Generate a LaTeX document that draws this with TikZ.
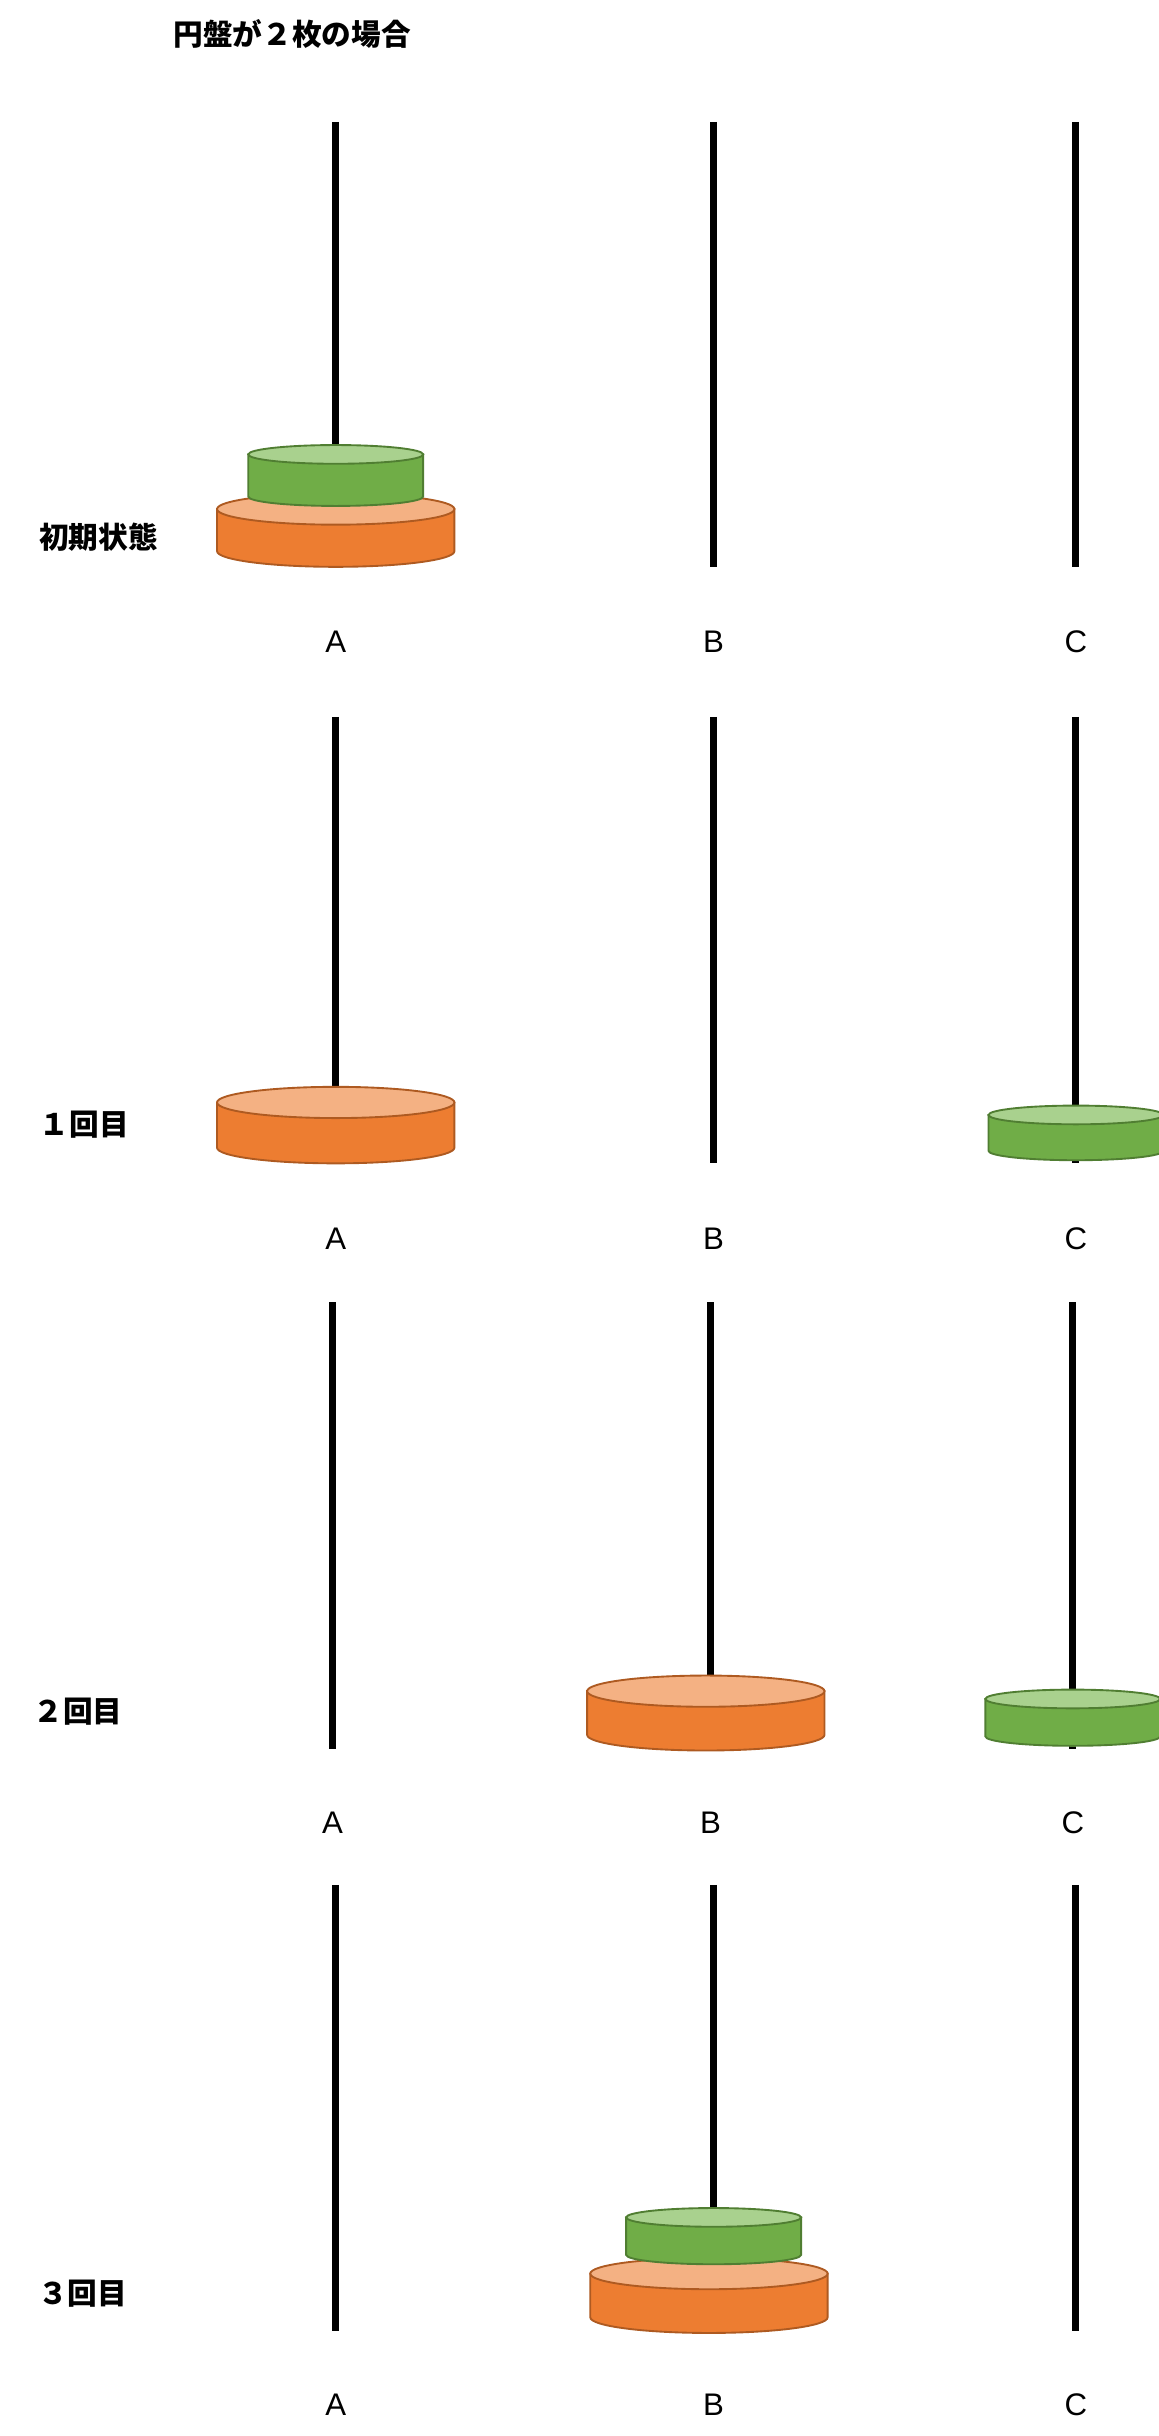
\documentclass[tikz,border=0pt]{standalone}
\usepackage{fontspec}
\setmainfont{Liberation Sans}
\newfontfamily\jp{Noto Sans CJK JP}
\begin{document}
\begin{tikzpicture}[x=1pt,y=-1pt,
  pole/.style={line width=4.5pt},
  lbl/.style={font=\fontsize{20}{24}\selectfont},
  jplbl/.style={font=\jp\bfseries\fontsize{19}{24}\selectfont},
  orng/.style={fill=orange1,draw=orangeS,line width=1.2pt},
  orngtop/.style={fill=orangeT,draw=orangeS,line width=1.2pt},
  grn/.style={fill=green1,draw=greenS,line width=1.2pt},
  grntop/.style={fill=greenT,draw=greenS,line width=1.2pt}]
\definecolor{orange1}{HTML}{ED7D31}\definecolor{orangeT}{HTML}{F4B183}\definecolor{orangeS}{HTML}{AE5A21}
\definecolor{green1}{HTML}{70AD47}\definecolor{greenT}{HTML}{A9D18E}\definecolor{greenS}{HTML}{507E32}
\fill[white] (0,0) rectangle (742,1560);
\useasboundingbox (0,0) rectangle (742,1560);
% #1 cx, #2 ytop, #3 halfwidth, #4 height, #5 ry, #6 body style, #7 top style
\newcommand\cyl[7]{%
  \draw[#6] (#1-#3,#2) -- (#1-#3,#2+#4) arc[start angle=180,end angle=360,x radius=#3,y radius=-#5] -- (#1+#3,#2) -- cycle;
  \draw[#7] (#1,#2) ellipse[x radius=#3,y radius=#5];}
\node[jplbl] (title) at (187,22) {円盤が２枚の場合};
% panel 1
\foreach \x in {215,457,689} \draw[pole] (\x,78) -- (\x,363);
\cyl{215}{326}{76}{27}{10}{orng}{orngtop}
\cyl{215}{291}{56}{27}{6}{grn}{grntop}
\node[jplbl] (s0) at (63,344) {初期状態};
\node[lbl] (a1) at (215,411) {A};\node[lbl] (b1) at (457,411) {B};\node[lbl] (c1) at (689,411) {C};
% panel 2
\foreach \x in {215,457,689} \draw[pole] (\x,459) -- (\x,745);
\cyl{215}{706}{76}{29}{10}{orng}{orngtop}
\cyl{689}{714}{56}{23}{6}{grn}{grntop}
\node[jplbl] (s1) at (54,720) {１回目};
\node[lbl] (a2) at (215,793) {A};\node[lbl] (b2) at (457,793) {B};\node[lbl] (c2) at (689,793) {C};
% panel 3
\foreach \x in {213,455,687} \draw[pole] (\x,834) -- (\x,1120);
\cyl{452}{1083}{76}{28}{10}{orng}{orngtop}
\cyl{687}{1088}{56}{24}{6}{grn}{grntop}
\node[jplbl] (s2) at (50,1096) {２回目};
\node[lbl] (a3) at (213,1167) {A};\node[lbl] (b3) at (455,1167) {B};\node[lbl] (c3) at (687,1167) {C};
% panel 4
\foreach \x in {215,457,689} \draw[pole] (\x,1207) -- (\x,1493);
\cyl{454}{1456}{76}{28}{10}{orng}{orngtop}
\cyl{457}{1420}{56}{24}{6}{grn}{grntop}
\node[jplbl] (s3) at (53,1469) {３回目};
\node[lbl] (a4) at (215,1540) {A};\node[lbl] (b4) at (457,1540) {B};\node[lbl] (c4) at (689,1540) {C};
\end{tikzpicture}
\end{document}
